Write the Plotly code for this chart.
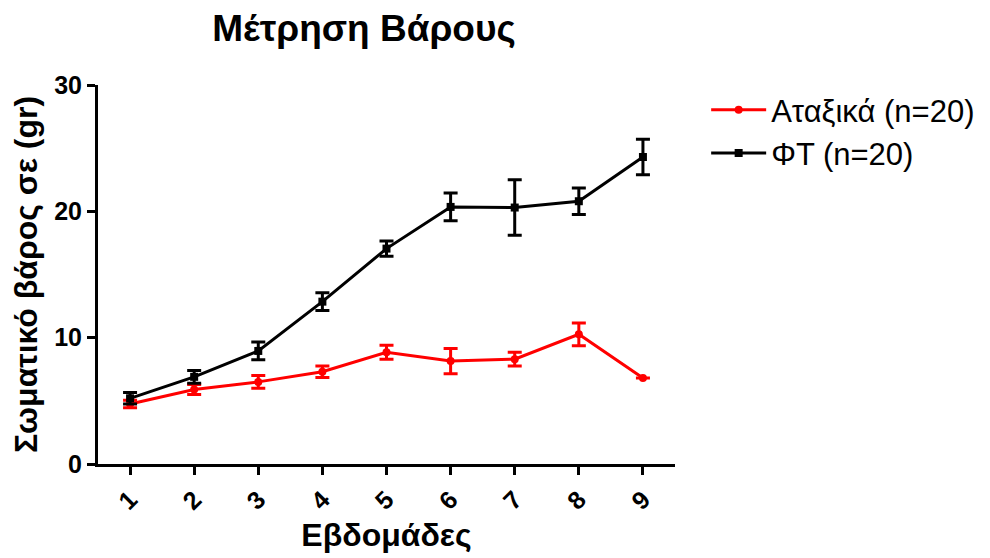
import plotly.graph_objects as go

weeks = [1, 2, 3, 4, 5, 6, 7, 8, 9]
tick_labels = ["1", "2", "3", "4", "5", "6", "7", "8", "9"]

ataxika_mean = [4.75, 5.9, 6.5, 7.3, 8.85, 8.15, 8.3, 10.27, 6.8]
ataxika_err = [0.3, 0.4, 0.5, 0.45, 0.55, 1.0, 0.55, 0.9, 0.0]

ft_mean = [5.2, 6.9, 8.95, 12.85, 17.05, 20.35, 20.3, 20.8, 24.3]
ft_err = [0.45, 0.5, 0.7, 0.7, 0.6, 1.1, 2.2, 1.05, 1.4]

font_family = "Liberation Sans, Arial, sans-serif"

fig = go.Figure()
fig.add_trace(go.Scatter(
    x=weeks, y=ataxika_mean, name="Αταξικά (n=20)",
    mode="lines+markers",
    line=dict(color="#ff0000", width=3),
    marker=dict(symbol="circle", size=8, color="#ff0000"),
    error_y=dict(type="data", array=ataxika_err, visible=True,
                 color="#ff0000", thickness=3, width=7),
))
fig.add_trace(go.Scatter(
    x=weeks, y=ft_mean, name="ΦΤ (n=20)",
    mode="lines+markers",
    line=dict(color="#000000", width=3),
    marker=dict(symbol="square", size=8, color="#000000"),
    error_y=dict(type="data", array=ft_err, visible=True,
                 color="#000000", thickness=3, width=7),
))

fig.update_layout(
    width=990, height=558,
    margin=dict(l=90, r=323, t=77, b=102),
    paper_bgcolor="white", plot_bgcolor="white",
    font=dict(family=font_family, color="black"),
    title=dict(text="<b>Μέτρηση Βάρους</b>", x=356/990, xanchor="center",
               y=1 - 20/558, yanchor="middle",
               font=dict(size=37, family=font_family, color="black")),
    legend=dict(x=1.054, y=1.005, xanchor="left", yanchor="top",
                font=dict(size=31, family=font_family, color="black"),
                bgcolor="rgba(0,0,0,0)", tracegroupgap=0, itemwidth=55),
    xaxis=dict(
        range=[0.5, 9.5], tickmode="array", tickvals=weeks, ticktext=tick_labels,
        tickangle=-45, showline=True, linecolor="black", linewidth=3,
        ticks="outside", ticklen=8, tickwidth=3, tickcolor="black",
        showgrid=False, zeroline=False,
        tickfont=dict(size=25, family=font_family, color="black", weight="bold"),
        title=dict(text="<b>Εβδομάδες</b>", font=dict(size=32, family=font_family, color="black"),
                   standoff=10),
    ),
    yaxis=dict(
        range=[0, 30], tickvals=[0, 10, 20, 30], showline=True, linecolor="black",
        linewidth=3, ticks="outside", ticklen=8, tickwidth=3, tickcolor="black",
        showgrid=False, zeroline=False,
        tickfont=dict(size=25, family=font_family, color="black", weight="bold"),
        title=dict(text="<b>Σωματικό βάρος σε (gr)</b>",
                   font=dict(size=32, family=font_family, color="black"), standoff=8),
    ),
)

fig.write_html("out.html")
